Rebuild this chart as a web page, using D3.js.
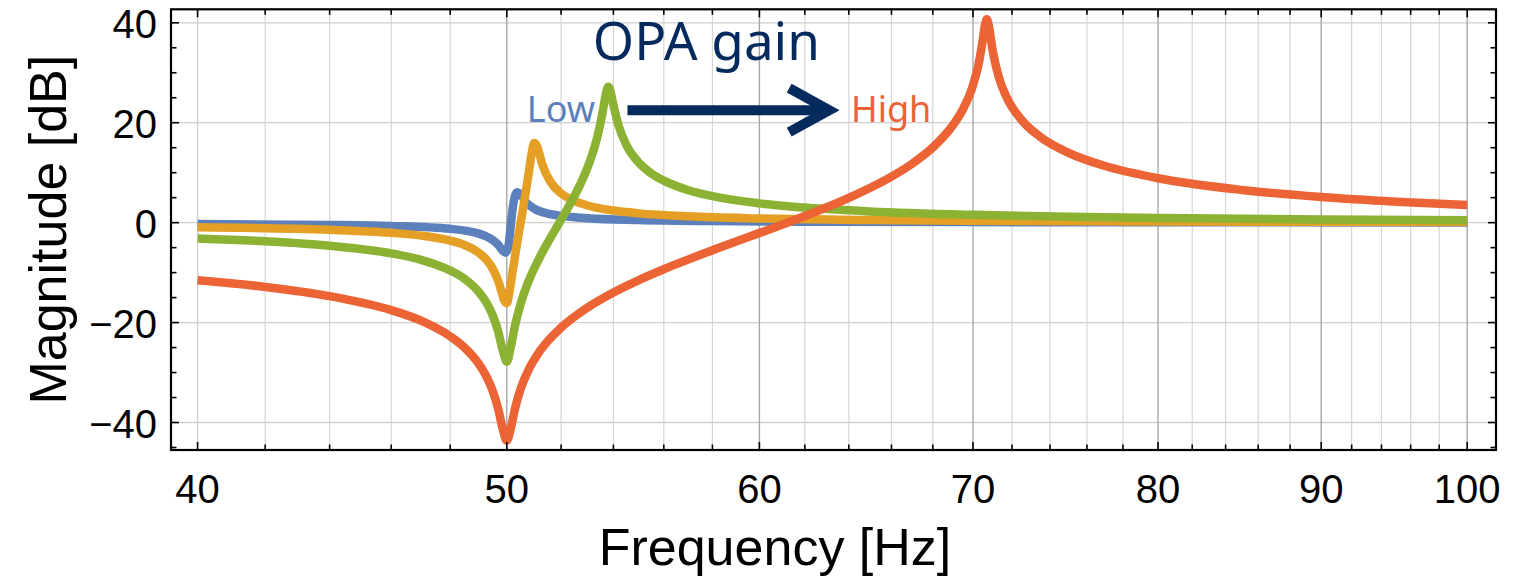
<!DOCTYPE html>
<html>
<head>
<meta charset="utf-8">
<script src="https://cdn.jsdelivr.net/npm/d3@7"></script>
<style>
  html, body { margin: 0; padding: 0; background: #fff; }
  svg { display: block; }
  text { font-family: "Liberation Sans", Arial, Helvetica, sans-serif; fill: #000; }
</style>
</head>
<body>
<svg id="chart" width="1531" height="576"></svg>
<script>
// ---- data ----
var xMajorTicks = [40, 50, 60, 70, 80, 90, 100];
var yMajorTicks = [-40, -20, 0, 20, 40];

// lowest OPA gain (blue)
var lowFreq = [40, 44, 46, 48, 49, 49.5, 49.7, 49.85, 49.95, 50.05, 50.15, 50.2, 50.3, 50.38, 50.45, 50.55, 50.7, 51, 51.5, 52, 53, 55, 58, 62, 70, 80, 100];
var lowDb   = [-0.29, -0.45, -0.66, -1.24, -2.2, -3.5, -4.5, -5.6, -6.0, -5.0, -0.2, 2.3, 5.4, 6.1, 5.9, 5.3, 4.1, 2.8, 1.8, 1.36, 0.88, 0.51, 0.31, 0.2, 0.11, 0.07, 0.04];

// second gain (orange)
var midLowFreq = [40, 44, 46, 47, 48, 48.5, 49, 49.3, 49.5, 49.7, 49.8, 49.9, 50, 50.1, 50.2, 50.4, 50.6, 50.8, 50.9, 51, 51.1, 51.3, 51.6, 52, 52.5, 53, 54, 55, 57, 60, 65, 70, 80, 90, 100];
var midLowDb   = [-0.92, -1.43, -2.03, -2.59, -3.61, -4.49, -6.03, -7.61, -9.26, -11.81, -13.58, -15.49, -16.11, -13.78, -10.14, -3.25, 3.1, 9.99, 13.63, 15.94, 15.32, 11.63, 8.18, 5.86, 4.35, 3.44, 2.42, 1.86, 1.26, 0.84, 0.52, 0.37, 0.23, 0.16, 0.12];

// third gain (green)
var midHighFreq = [40, 42, 44, 46, 47, 48, 48.5, 49, 49.3, 49.5, 49.7, 49.85, 50, 50.15, 50.3, 50.5, 50.8, 51.2, 51.7, 52.2, 52.7, 53.1, 53.4, 53.6, 53.7, 53.8, 53.9, 54, 54.2, 54.5, 55, 55.5, 56, 57, 58, 60, 62, 65, 70, 75, 80, 90, 100];
var midHighDb   = [-3.16, -3.73, -4.61, -6.14, -7.44, -9.58, -11.24, -13.85, -16.27, -18.6, -21.96, -25.45, -27.84, -24.75, -20.58, -16.3, -11.63, -6.98, -2.14, 2.43, 7.41, 12.4, 17.65, 22.66, 25.54, 27.21, 25.99, 23.56, 19.47, 15.63, 12.01, 9.85, 8.41, 6.5, 5.3, 3.86, 3.02, 2.25, 1.56, 1.17, 0.93, 0.63, 0.47];

// highest gain (red)
var highFreq = [40, 42, 44, 46, 47, 48, 48.5, 49, 49.3, 49.5, 49.7, 49.85, 50, 50.15, 50.3, 50.5, 50.8, 51.2, 52, 53, 54, 55, 56, 58, 60, 62, 64, 66, 67, 68, 69, 69.5, 70, 70.3, 70.5, 70.6, 70.7, 70.8, 71, 71.3, 71.7, 72.5, 73.5, 75, 77, 80, 85, 90, 95, 100];
var highDb   = [-11.54, -12.86, -14.7, -17.51, -19.63, -22.76, -25.01, -28.27, -31.13, -33.77, -37.46, -41.2, -43.6, -41.06, -37.19, -33.33, -29.37, -25.76, -21.02, -17.01, -13.99, -11.5, -9.33, -5.54, -2.09, 1.32, 4.95, 9.21, 11.82, 15.06, 19.54, 22.75, 27.52, 32.09, 36.69, 39.39, 40.7, 39.47, 34.44, 29.33, 25.25, 20.55, 17.12, 13.96, 11.33, 8.89, 6.54, 5.13, 4.19, 3.52];

var seriesColors = ["#5b80bc", "#e59f24", "#8cb234", "#ec6335"];

// ---- layout ----
var pLeft = 171, pRight = 1496, pTop = 9.3, pBottom = 450;

var svg = d3.select("#chart");

var x = d3.scaleLog().domain([39.24, 102.1]).range([pLeft, pRight]);
var y = d3.scaleLinear().domain([-45.5, 42.7]).range([pBottom, pTop]);

var xMinor = d3.range(40, 101, 2).filter(function(v){ return xMajorTicks.indexOf(v) < 0; });
var yMinor = d3.range(-45, 43, 5).filter(function(v){ return yMajorTicks.indexOf(v) < 0; });

//#region grid
var grid = svg.append("g").attr("id", "grid");
grid.selectAll(".xminor").data(xMinor).enter().append("line")
    .attr("x1", function(d){ return x(d); }).attr("x2", function(d){ return x(d); })
    .attr("y1", pTop).attr("y2", pBottom)
    .style("stroke", "#d6d6d6").style("stroke-width", "1.2px");
grid.selectAll(".ymajor").data(yMajorTicks).enter().append("line")
    .attr("x1", pLeft).attr("x2", pRight)
    .attr("y1", function(d){ return y(d); }).attr("y2", function(d){ return y(d); })
    .style("stroke", "#d0d0d0").style("stroke-width", "1.3px");
grid.selectAll(".xmajor").data(xMajorTicks).enter().append("line")
    .attr("x1", function(d){ return x(d); }).attr("x2", function(d){ return x(d); })
    .attr("y1", pTop).attr("y2", pBottom)
    .style("stroke", function(d){ return d == 40 ? "#d0d0d0" : "#a8a8a8"; })
    .style("stroke-width", "1.4px");

//#region curves
svg.append("clipPath").attr("id", "clip").append("rect")
    .attr("x", pLeft).attr("y", pTop).attr("width", pRight-pLeft).attr("height", pBottom-pTop);

var line = d3.line()
    .x(function(d){ return x(d[0]); })
    .y(function(d){ return y(d[1]); })
    .curve(d3.curveMonotoneX);

var allSeries = [d3.zip(lowFreq, lowDb), d3.zip(midLowFreq, midLowDb), d3.zip(midHighFreq, midHighDb), d3.zip(highFreq, highDb)];

var curves = svg.append("g").attr("clip-path", "url(#clip)");
allSeries.forEach(function(s, i){
    curves.append("path")
        .attr("d", line(s))
        .style("fill", "none")
        .style("stroke", seriesColors[i])
        .style("stroke-width", "8.5px")
        .style("stroke-linejoin", "round")
        .style("stroke-linecap", "butt");
});

//#region frame + ticks
var axes = svg.append("g").attr("id", "axes");
var majLen = 8, minLen = 5.5;

xMajorTicks.concat(xMinor).forEach(function(v){
    var len = xMajorTicks.indexOf(v) >= 0 ? majLen : minLen;
    axes.append("line").attr("x1", x(v)).attr("x2", x(v)).attr("y1", pBottom).attr("y2", pBottom-len)
        .style("stroke", "#000").style("stroke-width", "1.6px");
    axes.append("line").attr("x1", x(v)).attr("x2", x(v)).attr("y1", pTop).attr("y2", pTop+len)
        .style("stroke", "#000").style("stroke-width", "1.6px");
});
yMajorTicks.concat(yMinor).forEach(function(v){
    var len = yMajorTicks.indexOf(v) >= 0 ? majLen : minLen;
    axes.append("line").attr("x1", pLeft).attr("x2", pLeft+len).attr("y1", y(v)).attr("y2", y(v))
        .style("stroke", "#000").style("stroke-width", "1.6px");
    axes.append("line").attr("x1", pRight).attr("x2", pRight-len).attr("y1", y(v)).attr("y2", y(v))
        .style("stroke", "#000").style("stroke-width", "1.6px");
});

axes.append("rect")
    .attr("x", pLeft).attr("y", pTop).attr("width", pRight-pLeft).attr("height", pBottom-pTop)
    .style("fill", "none").style("stroke", "#000").style("stroke-width", "2.2px");

var fmt = function(v){ return v < 0 ? "\u2212" + Math.abs(v) : String(v); };

axes.selectAll(".xlab").data(xMajorTicks).enter().append("text")
    .attr("x", function(d){ return x(d); })
    .attr("y", 503)
    .attr("text-anchor", "middle")
    .style("font-size", "40px")
    .text(fmt);

axes.selectAll(".ylab").data(yMajorTicks).enter().append("text")
    .attr("x", 157)
    .attr("y", function(d){ return y(d) + 15; })
    .attr("text-anchor", "end")
    .style("font-size", "40px")
    .text(fmt);

axes.append("text")
    .attr("x", 775).attr("y", 565)
    .attr("text-anchor", "middle")
    .style("font-size", "52px")
    .text("Frequency [Hz]");

axes.append("text")
    .attr("transform", "translate(66," + ((pTop+pBottom)/2) + ") rotate(-90)")
    .attr("text-anchor", "middle")
    .style("font-size", "52px")
    .text("Magnitude [dB]");

//#region annotation
var navy = "#052a5e";
var ann = svg.append("g").attr("id", "annotation");

ann.append("text")
    .attr("x", x(57.75)).attr("y", y(32.5))
    .attr("text-anchor", "middle")
    .style("font-family", "'Noto Sans', sans-serif")
    .style("font-size", "53px")
    .style("fill", navy)
    .text("OPA gain");

ann.append("text")
    .attr("x", x(50.73)).attr("y", y(20.2))
    .style("font-family", "'Noto Sans', sans-serif")
    .style("font-size", "36px")
    .style("fill", seriesColors[0])
    .text("Low");

ann.append("text")
    .attr("x", x(64.1)).attr("y", y(20.2))
    .style("font-family", "'Noto Sans', sans-serif")
    .style("font-size", "36px")
    .style("fill", seriesColors[3])
    .text("High");

var arrowY = y(22.5), arrowX0 = x(54.55), arrowX1 = x(63.1);
ann.append("line")
    .attr("x1", arrowX0).attr("y1", arrowY).attr("x2", arrowX1 - 4).attr("y2", arrowY)
    .style("stroke", navy).style("stroke-width", "10px");
ann.append("path")
    .attr("d", "M" + (arrowX1-40) + "," + (arrowY-22) + " L" + arrowX1 + "," + arrowY + " L" + (arrowX1-40) + "," + (arrowY+22))
    .style("fill", "none").style("stroke", navy).style("stroke-width", "10px")
    .style("stroke-linejoin", "miter");
</script>
</body>
</html>
